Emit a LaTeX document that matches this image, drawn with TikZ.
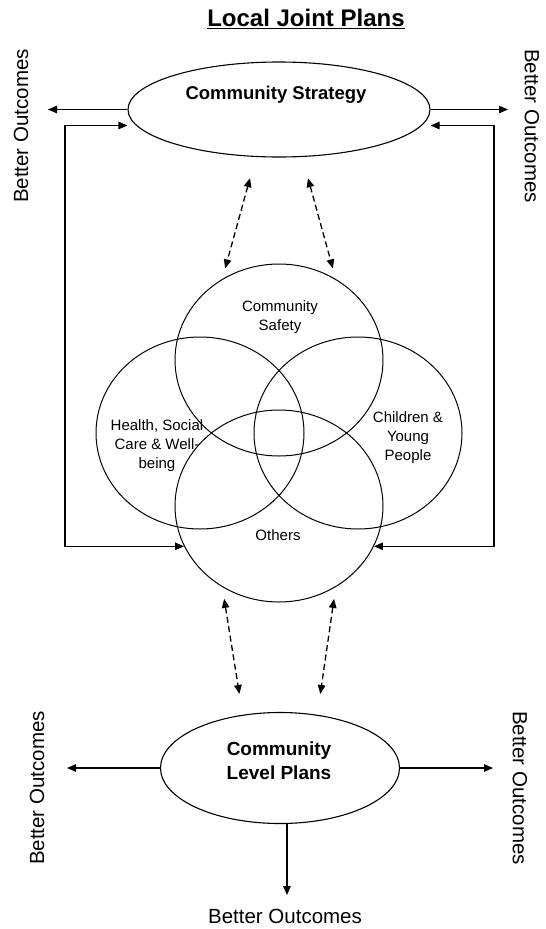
\documentclass[tikz,border=0pt]{standalone}
\usepackage{fontspec}
\setmainfont{Liberation Sans}
\usetikzlibrary{arrows.meta, positioning, shapes.geometric}

\begin{document}
\begin{tikzpicture}[
    x=1pt, y=-1pt,
    every node/.style={font=\fontsize{15}{19}\selectfont},
    oval/.style={draw, ellipse, line width=1.1pt, inner sep=0pt},
    venn/.style={draw, ellipse, line width=1pt, minimum width=208pt, minimum height=192pt, inner sep=0pt},
    vtext/.style={align=center, inner sep=0pt},
    outcome/.style={font=\fontsize{20.5}{24}\selectfont, inner sep=0pt},
    arrow/.style={-{Triangle[length=9pt, width=7.5pt]}, line width=1.1pt},
    feedback/.style={{Triangle[length=9pt, width=7.5pt]}-{Triangle[length=9pt, width=7.5pt]}, line width=1.1pt},
    dasharrow/.style={{Triangle[length=9pt, width=7.5pt]}-{Triangle[length=9pt, width=7.5pt]}, line width=1.3pt, dash pattern=on 6pt off 3.5pt}
]
    \useasboundingbox (0,0) rectangle (546,929);

    \node[font=\fontsize{24}{28}\selectfont\bfseries] (title) at (306,19) {\underline{Local Joint Plans}};
    \node[oval, minimum width=302pt, minimum height=95pt] (strat) at (279,109.5) {};
    \node[font=\fontsize{18.5}{22}\selectfont\bfseries] (strattext) at (276,95) {Community Strategy};

    \node[venn] (safety) at (279,360) {};
    \node[venn] (health) at (200,433) {};
    \node[venn] (children) at (358,433) {};
    \node[venn] (others) at (279,506) {};
    \node[vtext] (safetytext) at (280,317) {Community\\Safety};
    \node[vtext] (healthtext) at (157,446) {Health, Social\\Care \& Well-\\being};
    \node[vtext] (childrentext) at (408,438) {Children \&\\Young\\People};
    \node[vtext] (otherstext) at (278,535) {Others};

    \node[oval, minimum width=239pt, minimum height=111pt] (plans) at (280,768) {};
    \node[align=center, font=\fontsize{19}{24}\selectfont\bfseries] (planstext) at (279,761) {Community\\Level Plans};

    \node[outcome, rotate=90] (outTL) at (21,126) {Better Outcomes};
    \node[outcome, rotate=-90] (outTR) at (532,126) {Better Outcomes};
    \node[outcome, rotate=90] (outBL) at (37,788) {Better Outcomes};
    \node[outcome, rotate=-90] (outBR) at (520,788) {Better Outcomes};
    \node[outcome] (outB) at (285,916) {Better Outcomes};

    \coordinate (tipTL) at (48,109.5);
    \coordinate (tipTR) at (508,109.5);
    \coordinate (fbL) at (65,300);
    \coordinate (fbR) at (494,300);
    \coordinate (tipBL) at (67,768);
    \coordinate (tipBR) at (493,768);
    \coordinate (tipB) at (287,895);

    \draw[arrow] (strat.west) -- (tipTL);
    \draw[arrow] (strat.east) -- (tipTR);
    \draw[feedback] ([yshift=-16pt]strat.west) -| (fbL) |- (others.203);
    \draw[feedback] ([yshift=-16pt]strat.east) -| (fbR) |- (others.337);

    \draw[dasharrow, shorten <=22pt, shorten >=11pt] (strat.244) -- (safety.125);
    \draw[dasharrow, shorten <=22pt, shorten >=11pt] (strat.296) -- (safety.55);
    \draw[dasharrow, shorten <=12pt, shorten >=21pt] (others.235) -- (plans.125);
    \draw[dasharrow, shorten <=12pt, shorten >=21pt] (others.305) -- (plans.55);

    \draw[arrow] (plans.west) -- (tipBL);
    \draw[arrow] (plans.east) -- (tipBR);
    \draw[arrow] ([xshift=7pt]plans.south) -- (tipB);
\end{tikzpicture}
\end{document}
